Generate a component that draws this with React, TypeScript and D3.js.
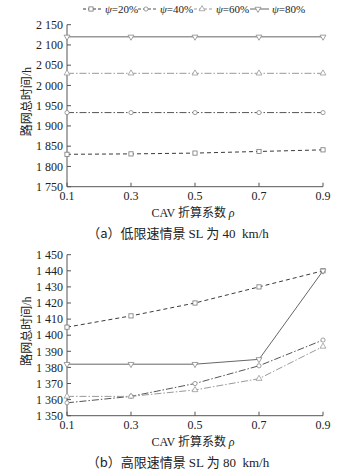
import React from "react";
import * as d3 from "d3";

const rhoValues = [0.1, 0.3, 0.5, 0.7, 0.9];
const seriesNames = ["ψ=20%", "ψ=40%", "ψ=60%", "ψ=80%"];

// Panel (a): low speed limit 40 km/h
const lowPsi20 = [1830, 1831, 1833, 1837, 1841];
const lowPsi40 = [1933, 1933, 1933, 1933, 1933];
const lowPsi60 = [2030, 2030, 2030, 2030, 2030];
const lowPsi80 = [2120, 2120, 2120, 2120, 2120];
const lowYTicks = [1750, 1800, 1850, 1900, 1950, 2000, 2050, 2100, 2150];

// Panel (b): high speed limit 80 km/h
const highPsi20 = [1405, 1412, 1420, 1430, 1440];
const highPsi40 = [1358, 1362, 1370, 1381, 1397];
const highPsi60 = [1362, 1362, 1366, 1373, 1393];
const highPsi80 = [1382, 1382, 1382, 1385, 1440];
const highYTicks = [1350, 1360, 1370, 1380, 1390, 1400, 1410, 1420, 1430, 1440, 1450];

const xTicks = [0.1, 0.3, 0.5, 0.7, 0.9];

const captionA = ["（a）低限速情景 ", "SL ", "为", " 40  km/h"];
const captionB = ["（b）高限速情景 ", "SL ", "为", " 80  km/h"];

const styles = [
  { color: "#3a3a3a", dash: "4,3", marker: "square", mcolor: "#777" },
  { color: "#555", dash: "7,2,1.5,2", marker: "circle", mcolor: "#888" },
  { color: "#999", dash: "7,2,1.5,2", marker: "triUp", mcolor: "#999" },
  { color: "#666", dash: "", marker: "triDown", mcolor: "#888" },
];

const SERIF = "'Liberation Serif', 'Times New Roman', serif";
const CJK = "'Noto Sans CJK SC', sans-serif";

function Marker({ type, x, y, color }: { type: string; x: number; y: number; color: string }) {
  const s = 2.1;
  if (type === "square")
    return <rect x={x - s} y={y - s} width={2 * s} height={2 * s} fill="#fff" stroke={color} strokeWidth={0.8} />;
  if (type === "circle") return <circle cx={x} cy={y} r={s} fill="#fff" stroke={color} strokeWidth={0.8} />;
  const sym = d3.symbol(d3.symbolTriangle, 15)();
  return (
    <path
      d={sym || ""}
      transform={`translate(${x},${y}) rotate(${type === "triDown" ? 180 : 0})`}
      fill="#fff"
      stroke={color}
      strokeWidth={0.8}
    />
  );
}

const fmt = (v: number) => d3.format(",")(v).replace(",", " ");

function Panel({
  top,
  bottom,
  data,
  domain,
  ticks,
  caption,
}: {
  top: number;
  bottom: number;
  data: number[][];
  domain: [number, number];
  ticks: number[];
  caption: string[];
}) {
  const left = 67;
  const right = 323;
  const x = d3.scaleLinear().domain([0.1, 0.9]).range([left, right]);
  const y = d3.scaleLinear().domain(domain).range([bottom, top]);
  const line = d3
    .line<number>()
    .x((_, i) => x(rhoValues[i]))
    .y((d) => y(d));
  return (
    <g>
      <line x1={left} x2={left} y1={top} y2={bottom} stroke="#555" strokeWidth={1} />
      <line x1={left} x2={right} y1={bottom} y2={bottom} stroke="#555" strokeWidth={1} />
      {ticks.map((t) => (
        <g key={t}>
          <line x1={left} x2={left + 4} y1={y(t)} y2={y(t)} stroke="#555" strokeWidth={1} />
          <text x={left - 4} y={y(t)} dy="0.35em" textAnchor="end" fontFamily={SERIF} fontSize={12} fill="#222">
            {fmt(t)}
          </text>
        </g>
      ))}
      {xTicks.map((t) => (
        <g key={t}>
          <line x1={x(t)} x2={x(t)} y1={bottom} y2={bottom - 4} stroke="#555" strokeWidth={1} />
          <text x={x(t)} y={bottom + 13} textAnchor="middle" fontFamily={SERIF} fontSize={12} fill="#222">
            {t.toFixed(1)}
          </text>
        </g>
      ))}
      <text
        transform={`translate(${31},${(top + bottom) / 2 - 4}) rotate(-90)`}
        textAnchor="middle"
        fontSize={12}
        fill="#222"
      >
        <tspan fontFamily={CJK}>路网总时间</tspan>
        <tspan fontFamily={SERIF}>/h</tspan>
      </text>
      <text x={193} y={bottom + 30} textAnchor="middle" fontSize={12} fill="#222">
        <tspan fontFamily={SERIF}>CAV </tspan>
        <tspan fontFamily={CJK}>折算系数 </tspan>
        <tspan fontFamily={SERIF} fontStyle="italic">ρ</tspan>
      </text>
      <text x={178} y={bottom + 51} textAnchor="middle" fontSize={13} fill="#222">
        <tspan fontFamily={CJK}>{caption[0]}</tspan>
        <tspan fontFamily={SERIF}>{caption[1]}</tspan>
        <tspan fontFamily={CJK}>{caption[2]}</tspan>
        <tspan fontFamily={SERIF} style={{ whiteSpace: "pre" }}>{caption[3]}</tspan>
      </text>
      {data.map((vals, si) => (
        <g key={si}>
          <path
            d={line(vals) || ""}
            fill="none"
            stroke={styles[si].color}
            strokeWidth={1}
            strokeDasharray={styles[si].dash}
          />
          {vals.map((v, i) => (
            <Marker key={i} type={styles[si].marker} x={x(rhoValues[i])} y={y(v)} color={styles[si].mcolor} />
          ))}
        </g>
      ))}
    </g>
  );
}

function Legend() {
  const starts = [83, 138, 194, 250];
  const yy = 9;
  return (
    <g>
      {seriesNames.map((name, i) => (
        <g key={name}>
          <line
            x1={starts[i]}
            x2={starts[i] + 19}
            y1={yy}
            y2={yy}
            stroke={styles[i].color}
            strokeWidth={1}
            strokeDasharray={styles[i].dash ? "3,2" : ""}
          />
          <Marker type={styles[i].marker} x={starts[i] + 8} y={yy} color={styles[i].mcolor} />
          <text x={starts[i] + 22} y={yy} dy="0.35em" fontFamily={SERIF} fontSize={11} fill="#222">
            <tspan fontStyle="italic">ψ</tspan>
            {name.slice(1)}
          </text>
        </g>
      ))}
    </g>
  );
}

export default function App() {
  return (
    <svg width={357} height={473} style={{ position: "absolute", left: 0, top: 0, background: "#fff" }}>
      <rect width={357} height={473} fill="#fff" />
      <Legend />
      <Panel
        top={24.7}
        bottom={186.7}
        data={[lowPsi20, lowPsi40, lowPsi60, lowPsi80]}
        domain={[1750, 2150]}
        ticks={lowYTicks}
        caption={captionA}
      />
      <Panel
        top={254.7}
        bottom={415.7}
        data={[highPsi20, highPsi40, highPsi60, highPsi80]}
        domain={[1350, 1450]}
        ticks={highYTicks}
        caption={captionB}
      />
    </svg>
  );
}
